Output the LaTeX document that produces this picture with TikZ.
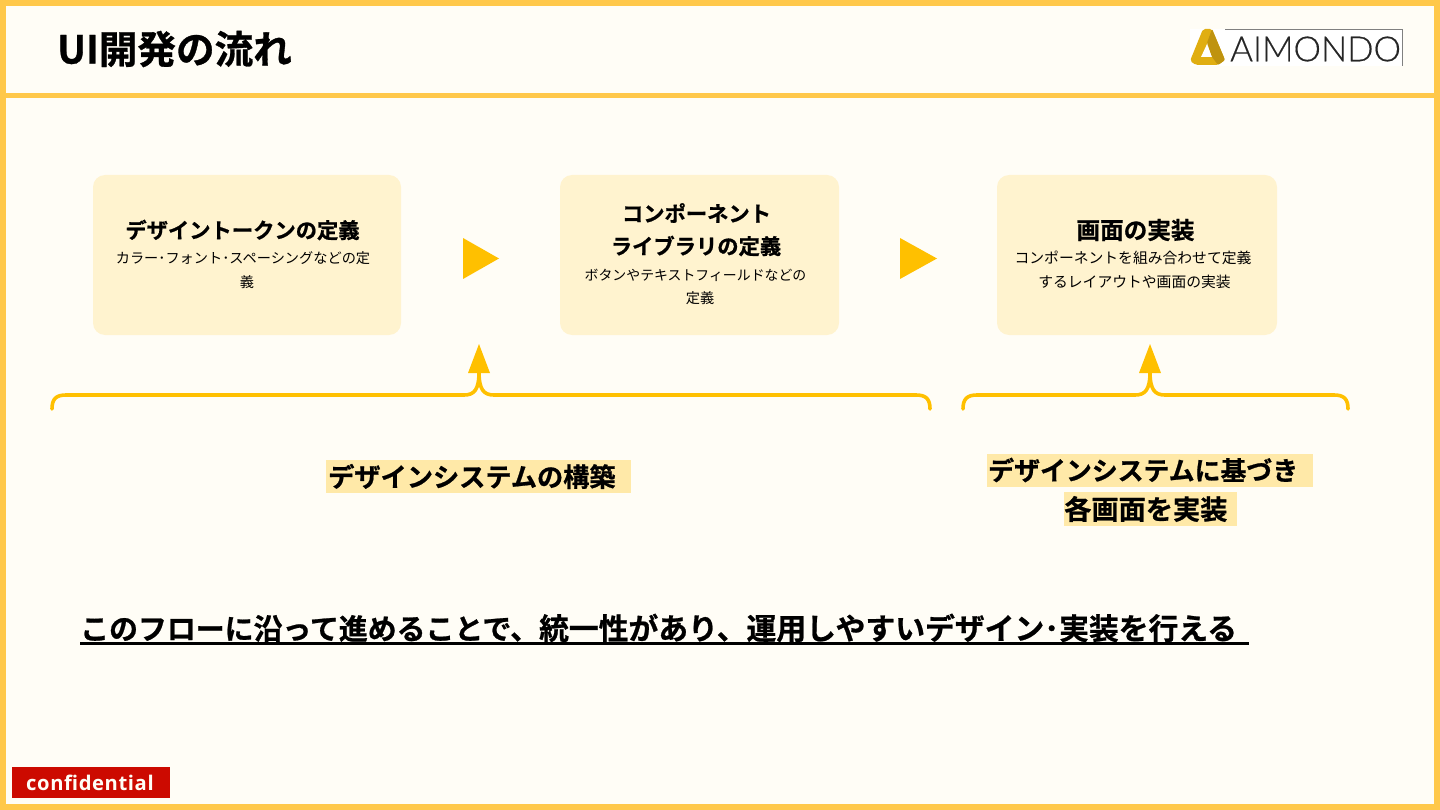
\documentclass[tikz,border=0pt]{standalone}
\usepackage{fontspec}
\setmainfont{Liberation Sans}
\newfontfamily\jpn[BoldFont={Noto Sans CJK JP Bold},BoldFeatures={FakeBold=0.8}]{Noto Sans CJK JP}
\newfontfamily\opn[LetterSpace=3]{Open Sans}
\newfontfamily\lgo[FakeBold=0.4]{Lato Light}
\usetikzlibrary{calc}
\definecolor{frameC}{HTML}{FFC84A}
\definecolor{paperC}{HTML}{FFFDF6}
\definecolor{boxC}{HTML}{FFF3CF}
\definecolor{accentC}{HTML}{FFC000}
\definecolor{markC}{HTML}{FFE9A8}
\definecolor{redC}{HTML}{CC0A00}
\definecolor{goldA}{HTML}{E0AE12}
\definecolor{goldB}{HTML}{BF930F}
\newcommand{\fs}[1]{\fontsize{#1pt}{#1pt}\selectfont}
\tikzset{
 cardbox/.style={fill=boxC,rounded corners=12pt,draw=none},
 bigtext/.style={font=\jpn\bfseries\fs{21.3},inner sep=0pt,text=black},
 smalltext/.style={font=\jpn\fs{14.2},inner sep=0pt,text=black},
 markbox/.style={fill=markC,draw=none},
 marktext/.style={font=\jpn\bfseries\fs{25.9},inner sep=0pt,text=black},
 tri/.style={fill=accentC,draw=none},
 brace/.style={draw=accentC,line width=3.6pt,line cap=round,line join=round},
}
\begin{document}
\begin{tikzpicture}[x=1pt,y=-1pt]
\useasboundingbox (0,0) rectangle (1440,810);
\fill[paperC] (0,0) rectangle (1440,810);
\fill[frameC] (0,0) rectangle (1440,6);
\fill[frameC] (0,804) rectangle (1440,810);
\fill[frameC] (0,0) rectangle (6,810);
\fill[frameC] (1434,0) rectangle (1440,810);
\fill[frameC] (0,93) rectangle (1440,98);
\node[anchor=west,inner sep=0pt,font=\jpn\bfseries\fs{38.6}] (title) at (57,49) {UI開発の流れ};
% logo
\fill[white] (1190,29) rectangle (1402,66);
\draw[gray,line width=0.5pt] (1225,29.3) -- (1402,29.3) -- (1402,66);
\fill[goldA,rounded corners=2pt] (1203,29) -- (1212,29) -- (1225,60) -- (1218,65) -- (1196,65) -- (1190,61) -- cycle;
\fill[white] (1207.5,43) -- (1214,57) -- (1201,57) -- cycle;
\fill[goldB,rounded corners=1pt] (1212,29) -- (1225,60) -- (1218,65) -- (1212,57) -- (1207,43) -- cycle;
\node[anchor=west,inner sep=0pt,font=\lgo\fs{34.7},text=black!85] (logo) at (1230,49) {AIMONDO};
% cards
\path[cardbox] (93,175) rectangle (401,335);
\path[cardbox] (560,175) rectangle (839,335);
\path[cardbox] (997,175) rectangle (1277,335);
\node[bigtext] (t1) at (242.5,230) {デザイントークンの定義};
\node[smalltext] (s1a) at (243,258) {カラー･フォント･スペーシングなどの定};
\node[smalltext] (s1b) at (247,282) {義};
\node[bigtext] (t2a) at (696.5,213) {コンポーネント};
\node[bigtext] (t2b) at (696,246) {ライブラリの定義};
\node[smalltext,font=\jpn\fs{13.9}] (s2a) at (695.5,275) {ボタンやテキストフィールドなどの};
\node[smalltext] (s2b) at (700,298) {定義};
\node[bigtext,font=\jpn\bfseries\fs{23.6}] (t3) at (1135.5,230) {画面の実装};
\node[smalltext,font=\jpn\fs{14.8}] (s3a) at (1133,258) {コンポーネントを組み合わせて定義};
\node[smalltext,font=\jpn\fs{14.8}] (s3b) at (1134.5,282) {するレイアウトや画面の実装};
% arrows
\fill[tri] (463,238) -- (499,258.5) -- (463,279) -- cycle;
\fill[tri] (900,238) -- (937,258.5) -- (900,279) -- cycle;
% braces
\coordinate (b1l) at (52,409);
\coordinate (b1c) at (479,372);
\coordinate (b1r) at (930,409);
\coordinate (b2l) at (963,409);
\coordinate (b2c) at (1150,372);
\coordinate (b2r) at (1348,409);
\draw[brace] (b1l) .. controls (52,399) and (56,395) .. (66,395) -- (464,395) .. controls (474,395) and (479,390) .. (b1c);
\draw[brace] (b1c) .. controls (479,390) and (484,395) .. (494,395) -- (916,395) .. controls (926,395) and (930,399) .. (b1r);
\draw[brace] (b2l) .. controls (963,399) and (967,395) .. (977,395) -- (1135,395) .. controls (1145,395) and (1150,390) .. (b2c);
\draw[brace] (b2c) .. controls (1150,390) and (1155,395) .. (1165,395) -- (1334,395) .. controls (1344,395) and (1348,399) .. (b2r);
\fill[tri] (479,344) -- (490,373) -- (468,373) -- cycle;
\fill[tri] (1150,344) -- (1161,373) -- (1139,373) -- cycle;
% highlighted labels
\fill[markbox] (326,460) rectangle (631,493);
\fill[markbox] (987,454) rectangle (1313,487);
\fill[markbox] (1064,492) rectangle (1237,526);
\node[marktext,font=\jpn\bfseries\fs{26.2},anchor=west] (m1) at (328,476.5) {デザインシステムの構築};
\node[marktext,anchor=west] (m2) at (988,470) {デザインシステムに基づき};
\node[marktext,font=\jpn\bfseries\fs{27.2},anchor=west] (m3) at (1064,509) {各画面を実装};
% summary
\node[anchor=west,inner sep=0pt,font=\jpn\bfseries\fs{28.9}] (sum) at (80,628) {このフローに沿って進めることで、{\fs{29.8}統一性があり、運用しやすいデザイン･実装を行える}};
\fill[black] (80,642) rectangle (1249,645);
% confidential
\node[fill=redC,minimum width=158pt,minimum height=31pt,inner sep=0pt,anchor=north west] (conf) at (12,767) {};
\node[anchor=west,inner sep=0pt,text=paperC,font=\opn\bfseries\fs{20.2}] (conft) at (26,783) {confidential};
\end{tikzpicture}
\end{document}
